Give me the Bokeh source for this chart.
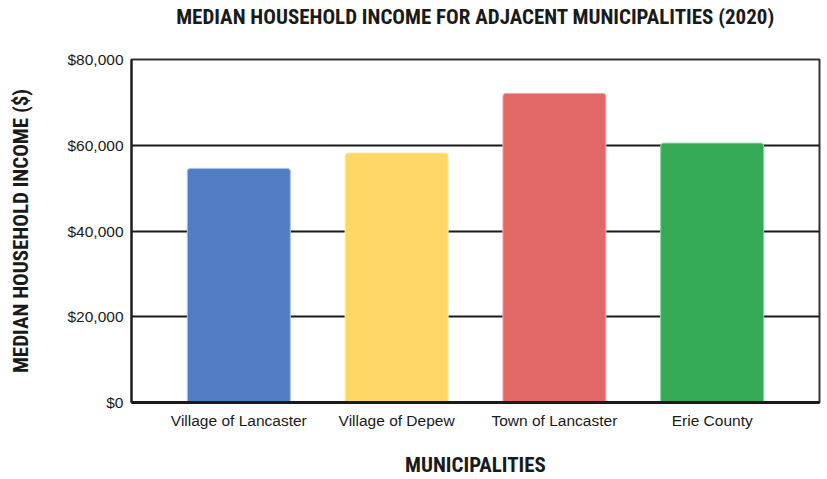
from bokeh.plotting import figure
from bokeh.models import ColumnDataSource, FactorRange, Range1d, Title, NumeralTickFormatter, FixedTicker
from bokeh.embed import file_html
from bokeh.resources import INLINE

categories = ["Village of Lancaster", "Village of Depew", "Town of Lancaster", "Erie County"]
income = [54600, 58200, 72100, 60500]
colors = ["#527DC2", "#FED766", "#E26868", "#35AA54"]
edges = ["#A9C1E6", "#FFEBB0", "#F2AFAF", "#8FD3A0"]
y_ticks = [0, 20000, 40000, 60000, 80000]
title_text = "MEDIAN HOUSEHOLD INCOME FOR ADJACENT MUNICIPALITIES (2020)"
x_label_text = "MUNICIPALITIES"
y_label_text = "MEDIAN HOUSEHOLD INCOME ($)"

COND = "Roboto Condensed, Liberation Sans Narrow, Arial Narrow, DejaVu Sans Condensed, sans-serif"
REG = "Liberation Sans, Arial, sans-serif"
BOLD_SIZE = "21px"
DARK = "#1a1a1a"

src = ColumnDataSource(dict(cat=categories, val=income, color=colors, edge=edges))

p = figure(width=827, height=479, output_backend="svg", toolbar_location=None,
           x_range=FactorRange(factors=categories, range_padding=0.18, range_padding_units="absolute"),
           y_range=Range1d(0, 80000),
           min_border_left=131, min_border_right=8, min_border_top=0, min_border_bottom=77)

p.title = Title(text=title_text, align="center", vertical_align="bottom", standoff=4,
                text_font=COND, text_font_size=BOLD_SIZE, text_font_style="bold", text_color=DARK)
# invisible spacer between the title and the plot frame
p.add_layout(Title(text=" ", text_font_size="1px", standoff=26), "above")

p.vbar(x="cat", top="val", width=0.653, source=src, fill_color="color", line_color="edge",
       line_width=1, border_radius=(3, 3, 0, 0))

p.yaxis.ticker = FixedTicker(ticks=y_ticks)
p.yaxis.formatter = NumeralTickFormatter(format="$0,0")
for ax in (p.xaxis, p.yaxis):
    ax.major_tick_line_color = None
    ax.minor_tick_line_color = None
    ax.major_tick_out = 0
    ax.major_tick_in = 0
    ax.minor_tick_out = 0
    ax.major_label_text_font = REG
    ax.major_label_text_font_size = "15.5px"
    ax.major_label_text_color = DARK
    ax.axis_line_color = DARK
    ax.axis_label_text_font = COND
    ax.axis_label_text_font_size = BOLD_SIZE
    ax.axis_label_text_font_style = "bold"
    ax.axis_label_text_color = DARK
p.xaxis.axis_label = x_label_text
p.yaxis.axis_label = y_label_text
p.xaxis.axis_line_width = 3
p.yaxis.axis_line_width = 2
p.xaxis.major_label_standoff = 9
p.yaxis.major_label_standoff = 8
p.xaxis.axis_label_standoff = 21
p.yaxis.axis_label_standoff = 31

p.xgrid.grid_line_color = None
p.ygrid.ticker = FixedTicker(ticks=y_ticks)
p.ygrid.grid_line_color = DARK
p.ygrid.grid_line_width = 2
p.outline_line_color = "#333333"
p.outline_line_width = 2

open("out.html", "w").write(file_html(p, INLINE))
